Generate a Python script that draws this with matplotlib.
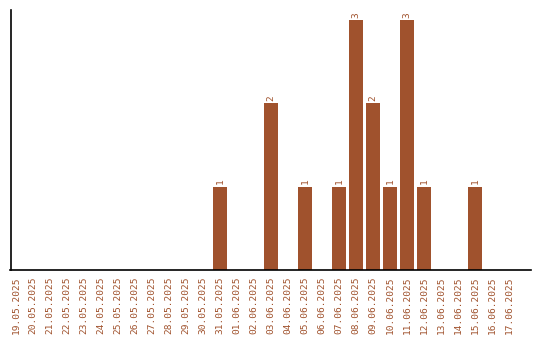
import matplotlib
matplotlib.use("Agg")
import matplotlib.pyplot as plt

dates = ["19.05.2025", "20.05.2025", "21.05.2025", "22.05.2025", "23.05.2025",
         "24.05.2025", "25.05.2025", "26.05.2025", "27.05.2025", "28.05.2025",
         "29.05.2025", "30.05.2025", "31.05.2025", "01.06.2025", "02.06.2025",
         "03.06.2025", "04.06.2025", "05.06.2025", "06.06.2025", "07.06.2025",
         "08.06.2025", "09.06.2025", "10.06.2025", "11.06.2025", "12.06.2025",
         "13.06.2025", "14.06.2025", "15.06.2025", "16.06.2025", "17.06.2025"]
counts = [0, 0, 0, 0, 0, 0, 0, 0, 0, 0, 0, 0, 1, 0, 0, 2, 0, 1, 0, 1,
          3, 2, 1, 3, 1, 0, 0, 1, 0, 0]

color = "#A0522D"
fig = plt.figure(figsize=(5.4, 3.4), dpi=100)
ax = fig.add_axes([10.5/540, 70/340, 520/540, 260/340])
x = list(range(len(dates)))
ax.bar(x, counts, width=0.84, color=color)
for xi, v in zip(x, counts):
    if v > 0:
        ax.text(xi, v + 0.03, str(v), rotation=90, ha="center", va="bottom",
                fontsize=6.8, color=color, family="DejaVu Sans Mono")
ax.set_xlim(-0.34, 30.25)
ax.set_ylim(0, 260/83.3)
ax.set_xticks(x)
ax.set_xticklabels(dates, rotation=90, fontsize=6.8, color=color,
                   family="DejaVu Sans Mono")
ax.tick_params(axis="x", length=0, pad=5)
ax.set_yticks([])
ax.spines["top"].set_visible(False)
ax.spines["right"].set_visible(False)
ax.spines["left"].set_linewidth(1.2)
ax.spines["bottom"].set_linewidth(1.2)
fig.savefig("out.png", dpi=100)
